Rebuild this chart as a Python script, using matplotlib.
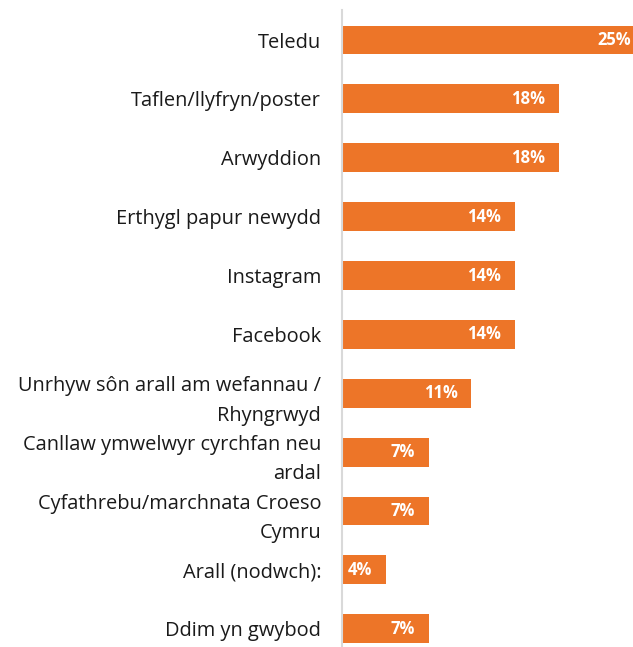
import matplotlib
matplotlib.use("Agg")
import matplotlib.pyplot as plt

categories = [
    "Teledu",
    "Taflen/llyfryn/poster",
    "Arwyddion",
    "Erthygl papur newydd",
    "Instagram",
    "Facebook",
    "Unrhyw sôn arall am wefannau /\nRhyngrwyd",
    "Canllaw ymwelwyr cyrchfan neu\nardal",
    "Cyfathrebu/marchnata Croeso\nCymru",
    "Arall (nodwch):",
    "Ddim yn gwybod",
]
values = [25.0, 17.9, 17.9, 14.3, 14.3, 14.3, 10.7, 7.2, 7.2, 3.6, 7.2]
value_labels = ["25%", "18%", "18%", "14%", "14%", "14%", "11%", "7%", "7%", "4%", "7%"]

W, H = 633, 647
fig = plt.figure(figsize=(W / 100, H / 100), dpi=100)
ax = fig.add_axes([342 / W, 0, 1 - 342 / W, (H - 10) / H])

bar_color = "#ED7528"
y = list(range(len(categories)))
ax.barh(y, values, height=0.49, color=bar_color)
ax.set_xlim(0, 24.05)
ax.set_ylim(10.31, -0.51)

for yi, v, lab in zip(y, values, value_labels):
    ax.text(v - 1.15, yi, lab, ha="right", va="center", color="white",
            fontsize=12, fontweight="bold", family=["Open Sans", "DejaVu Sans"])

ax.set_yticks(y)
ax.set_yticklabels(categories, fontsize=14.4, family=["Open Sans", "DejaVu Sans"],
                   color="#1a1a1a", linespacing=1.65)
ax.tick_params(axis="y", length=0, pad=15)
ax.set_xticks([])
for s in ["top", "right", "bottom"]:
    ax.spines[s].set_visible(False)
ax.spines["left"].set_color("#D9D9D9")
ax.spines["left"].set_linewidth(1.5)

fig.savefig("out.png", dpi=100)
